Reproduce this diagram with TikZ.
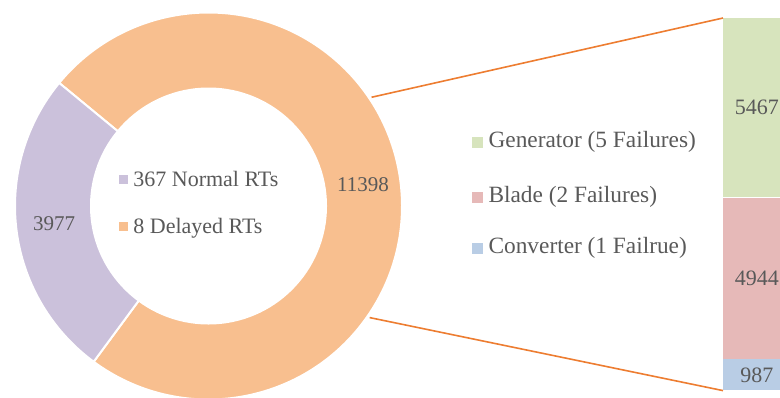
\documentclass[tikz,border=0pt]{standalone}
\usepackage{fontspec}
\setmainfont{Liberation Serif}
\usetikzlibrary{positioning,calc}

\definecolor{txtgray}{HTML}{595959}
\definecolor{ringorange}{HTML}{F8BF8F}
\definecolor{ringpurple}{HTML}{CBC1DB}
\definecolor{linkorange}{HTML}{ED7D31}
\definecolor{gengreen}{HTML}{D7E4BD}
\definecolor{bladered}{HTML}{E6B9B8}
\definecolor{convblue}{HTML}{B9CDE5}

\tikzset{
  slice/.style={draw=white, line width=1.5pt},
  datalbl/.style={text=txtgray, inner sep=0pt, font=\fontsize{15.75}{18}\selectfont},
  legtext/.style={text=txtgray, inner sep=0pt, text height=11pt, text depth=3pt},
  legmark/.style={minimum size=6.75pt, inner sep=0pt},
  barpart/.style={anchor=north west, inner sep=0pt, minimum width=50.25pt, text=txtgray, font=\fontsize{16.5}{19}\selectfont},
  linkline/.style={draw=linkorange, line width=1.2pt},
}

\begin{document}
\begin{tikzpicture}[x=0.75pt,y=0.75pt,yscale=-1,xscale=1]
\useasboundingbox (0,0) rectangle (780,397);
\clip (0,0) rectangle (780,397);

\coordinate (ctr) at (208.5,206);
%Shape: Delayed slice
\path[slice, fill=ringorange] (ctr) -- ++(-233.6:193.5) arc[start angle=-233.6, end angle=-500.5, radius=193.5] -- cycle;
%Shape: Normal slice
\path[slice, fill=ringpurple] (ctr) -- ++(-140.5:193.5) arc[start angle=-140.5, end angle=-233.6, radius=193.5] -- cycle;
%Shape: hole
\fill[white] (ctr) circle[radius=118.5];

%Straight Lines
\coordinate (lnkup) at ($(ctr)+(-33.7:196)$);
\coordinate (lnkdn) at ($(ctr)+(34.7:196)$);

%Shape: Stacked bar
\node[barpart, fill=gengreen, minimum height=134.25pt] (gen) at (723,18) {5467};
\node[barpart, fill=bladered, minimum height=120.75pt] (blade) at (gen.south west) {4944};
\node[barpart, fill=convblue, minimum height=23.25pt] (conv) at (blade.south west) {987};

\draw[linkline] (lnkup) -- (gen.north west);
\draw[linkline] (lnkdn) -- (conv.south west);

% Text Node
\node[datalbl] (vnorm) at (54,224) {3977};
% Text Node
\node[datalbl] (vdel) at (363,185) {11398};

% Legend, donut
\node[legmark, fill=ringpurple] (mnorm) at (123.7,179) {};
\node[legtext, right=3.5pt of mnorm, yshift=-1.5pt, font=\fontsize{16.5}{19}\selectfont] (lnorm) {367 Normal RTs};
\node[legmark, fill=ringorange] (mdel) at (123.7,226.5) {};
\node[legtext, right=3.5pt of mdel, yshift=-1.5pt, font=\fontsize{16.5}{19}\selectfont] (ldel) {8 Delayed RTs};

% Legend, bar
\node[legmark, minimum size=8.25pt, fill=gengreen] (mgen) at (477.2,142.5) {};
\node[legtext, right=4pt of mgen, font=\fontsize{17.5}{20}\selectfont] (lgen) {Generator (5 Failures)};
\node[legmark, minimum size=8.25pt, fill=bladered] (mblade) at (477.2,197) {};
\node[legtext, right=4pt of mblade, font=\fontsize{17.5}{20}\selectfont] (lblade) {Blade (2 Failures)};
\node[legmark, minimum size=8.25pt, fill=convblue] (mconv) at (477.2,248) {};
\node[legtext, right=4pt of mconv, font=\fontsize{17.5}{20}\selectfont] (lconv) {Converter (1 Failrue)};

\end{tikzpicture}
\end{document}
